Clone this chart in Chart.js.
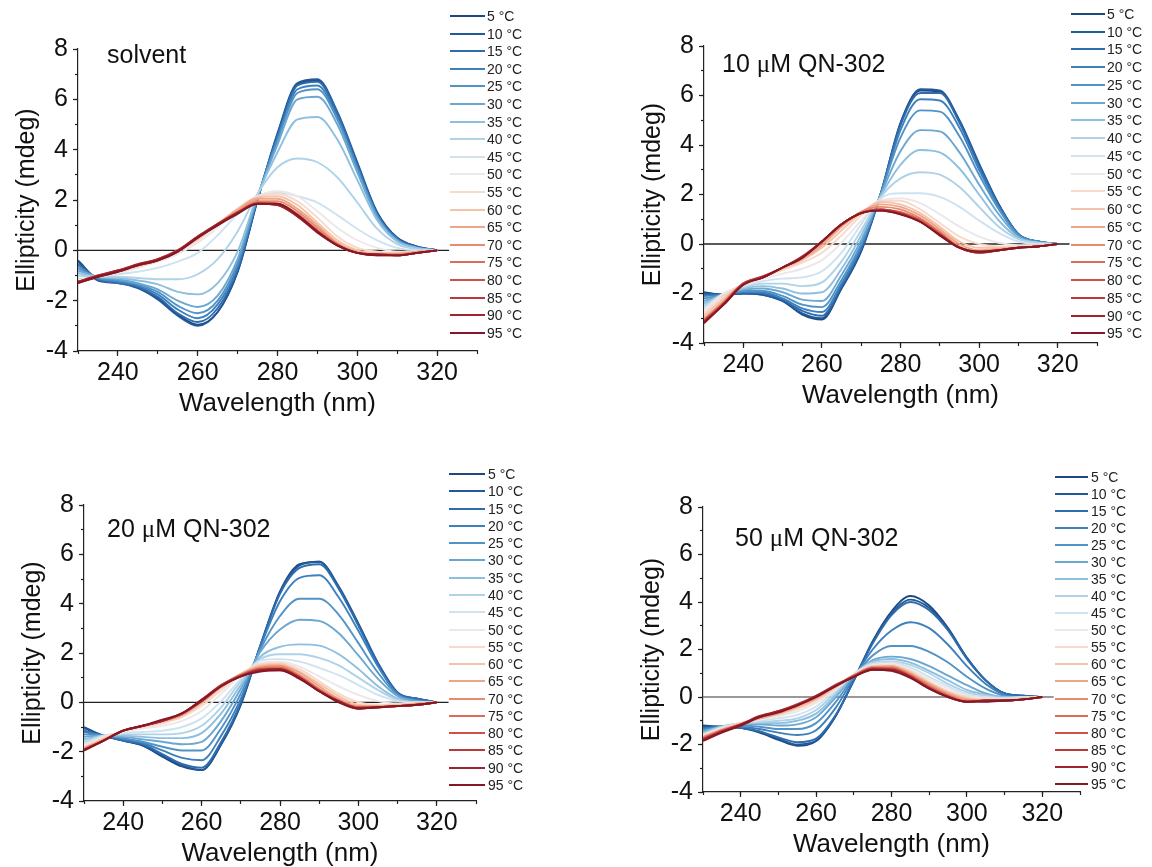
<!DOCTYPE html>
<html>
<head>
<meta charset="utf-8">
<script src="https://cdn.jsdelivr.net/npm/chart.js@4.4.1/dist/chart.umd.min.js"></script>
<style>
  body { margin: 0; background: #fff; width: 1152px; height: 867px; position: relative; overflow: hidden;
         font-family: "Liberation Sans", Arial, sans-serif; color: #111; }
  canvas { position: absolute; }
  .tag { position: absolute; font-size: 25px; line-height: 25px; white-space: nowrap; }
  .tag .mu { font-family: "Liberation Serif", "DejaVu Serif", serif; }
  .lg-line { position: absolute; height: 2px; }
  .lg-text { position: absolute; font-size: 14px; line-height: 14px; white-space: nowrap; color: #222; }
</style>
</head>
<body>
<script>
/* ------------------------------------------------------------
   DATA (mdeg vs nm)
   ------------------------------------------------------------ */
const wavelengths = [230,235,240,245,250,255,260,265,270,275,280,285,290,295,300,305,310,315,320];
const temperatures = [5,10,15,20,25,30,35,40,45,50,55,60,65,70,75,80,85,90,95];
const xTicks = [240,260,280,300,320];
const zeroLineX = [230,323];

// solvent, one row per temperature (5 ... 95 °C)
const solvent = [
  [-0.40,-1.15,-1.25,-1.45,-1.90,-2.55,-2.95,-2.45,-0.85,2.00,4.60,6.60,6.75,5.40,3.40,1.50,0.50,0.15,0.00],
  [-0.45,-1.20,-1.30,-1.50,-1.95,-2.60,-3.00,-2.45,-0.85,2.00,4.65,6.65,6.80,5.50,3.50,1.50,0.50,0.15,0.00],
  [-0.55,-1.15,-1.30,-1.45,-1.85,-2.50,-2.85,-2.30,-0.75,2.05,4.55,6.55,6.70,5.45,3.40,1.45,0.45,0.15,0.00],
  [-0.60,-1.10,-1.25,-1.40,-1.75,-2.35,-2.70,-2.15,-0.65,2.10,4.45,6.40,6.55,5.30,3.30,1.40,0.45,0.10,0.00],
  [-0.70,-1.10,-1.20,-1.35,-1.65,-2.20,-2.50,-2.00,-0.50,2.10,4.35,6.25,6.40,5.20,3.25,1.35,0.40,0.10,0.00],
  [-0.80,-1.05,-1.15,-1.30,-1.55,-2.00,-2.25,-1.80,-0.35,2.15,4.20,6.00,6.10,5.00,3.10,1.30,0.40,0.10,0.00],
  [-0.90,-1.05,-1.10,-1.20,-1.35,-1.65,-1.75,-1.30,-0.05,2.20,3.90,5.20,5.30,4.40,2.80,1.20,0.35,0.10,0.00],
  [-1.00,-1.05,-1.05,-1.10,-1.15,-1.15,-0.95,-0.35,0.75,2.25,3.30,3.65,3.50,2.90,1.90,0.85,0.25,0.05,0.00],
  [-1.15,-1.05,-0.95,-0.85,-0.70,-0.45,-0.10,0.60,1.45,2.15,2.30,2.15,1.90,1.40,0.85,0.40,0.10,0.00,0.00],
  [-1.20,-1.05,-0.90,-0.70,-0.45,-0.15,0.30,0.90,1.60,2.15,2.35,2.15,1.55,0.90,0.40,0.10,-0.05,-0.05,0.00],
  [-1.25,-1.00,-0.85,-0.65,-0.40,-0.05,0.40,1.00,1.65,2.15,2.25,1.95,1.30,0.55,0.10,-0.05,-0.10,-0.05,0.00],
  [-1.25,-1.00,-0.85,-0.60,-0.35,0.00,0.45,1.05,1.65,2.10,2.15,1.80,1.10,0.40,0.00,-0.10,-0.10,-0.05,0.00],
  [-1.25,-1.00,-0.80,-0.60,-0.35,0.00,0.50,1.05,1.60,2.05,2.05,1.65,1.00,0.30,-0.05,-0.15,-0.15,-0.05,0.00],
  [-1.25,-1.00,-0.80,-0.55,-0.35,0.00,0.50,1.05,1.55,1.95,1.95,1.55,0.90,0.25,-0.10,-0.15,-0.15,-0.10,0.00],
  [-1.25,-1.05,-0.80,-0.60,-0.40,0.00,0.55,1.00,1.50,1.90,1.85,1.45,0.80,0.25,-0.10,-0.15,-0.20,-0.10,0.00],
  [-1.30,-1.05,-0.80,-0.60,-0.40,-0.05,0.55,1.00,1.50,1.85,1.85,1.40,0.75,0.20,-0.10,-0.15,-0.20,-0.10,0.00],
  [-1.25,-1.05,-0.85,-0.60,-0.40,-0.05,0.50,1.00,1.50,1.85,1.80,1.35,0.75,0.20,-0.10,-0.20,-0.20,-0.10,0.00],
  [-1.25,-1.00,-0.80,-0.55,-0.35,0.00,0.55,1.05,1.50,1.85,1.80,1.35,0.70,0.20,-0.10,-0.15,-0.20,-0.10,0.00],
  [-1.30,-1.05,-0.85,-0.60,-0.40,-0.05,0.50,1.00,1.45,1.85,1.85,1.40,0.75,0.20,-0.10,-0.20,-0.20,-0.10,0.00]
];

// 10 µM QN-302
const qn10 = [
  [-1.95,-2.05,-2.00,-2.05,-2.30,-2.85,-3.05,-1.80,-0.30,2.05,4.90,6.20,6.15,4.95,3.20,1.60,0.40,0.10,0.00],
  [-2.00,-2.05,-2.00,-2.05,-2.30,-2.80,-3.00,-1.75,-0.25,2.05,4.85,6.25,6.20,5.00,3.25,1.60,0.40,0.10,0.00],
  [-2.05,-2.05,-1.95,-2.00,-2.25,-2.70,-2.90,-1.70,-0.20,2.05,4.80,6.10,6.10,4.90,3.15,1.55,0.40,0.10,0.00],
  [-2.10,-2.05,-1.95,-1.95,-2.20,-2.60,-2.75,-1.60,-0.10,2.05,4.60,5.85,5.80,4.70,3.00,1.50,0.40,0.10,0.00],
  [-2.20,-2.05,-1.90,-1.90,-2.10,-2.45,-2.55,-1.45,0.00,2.05,4.30,5.40,5.35,4.35,2.80,1.40,0.35,0.10,0.00],
  [-2.30,-2.05,-1.85,-1.80,-1.95,-2.25,-2.30,-1.25,0.15,2.00,3.75,4.60,4.55,3.70,2.40,1.20,0.30,0.05,0.00],
  [-2.40,-2.05,-1.80,-1.70,-1.80,-2.00,-1.95,-1.00,0.35,1.95,3.20,3.80,3.70,3.05,2.00,0.95,0.25,0.05,0.00],
  [-2.50,-2.00,-1.75,-1.60,-1.60,-1.70,-1.55,-0.70,0.55,1.90,2.65,2.90,2.80,2.30,1.50,0.70,0.20,0.05,0.00],
  [-2.60,-2.00,-1.70,-1.50,-1.40,-1.35,-1.10,-0.35,0.80,1.85,2.05,2.05,1.90,1.50,0.95,0.45,0.10,0.00,0.00],
  [-2.70,-2.00,-1.65,-1.40,-1.20,-1.00,-0.65,0.05,0.95,1.75,1.85,1.65,1.20,0.70,0.30,0.05,-0.05,-0.05,0.00],
  [-2.80,-2.10,-1.65,-1.35,-1.05,-0.75,-0.35,0.35,1.15,1.75,1.75,1.40,0.85,0.30,0.00,-0.10,-0.10,-0.05,0.00],
  [-2.90,-2.20,-1.60,-1.35,-1.00,-0.65,-0.15,0.55,1.25,1.70,1.60,1.25,0.70,0.10,-0.15,-0.15,-0.15,-0.05,0.00],
  [-3.00,-2.30,-1.60,-1.35,-0.95,-0.60,-0.05,0.70,1.30,1.60,1.50,1.15,0.60,0.00,-0.25,-0.20,-0.15,-0.10,0.00],
  [-3.05,-2.35,-1.60,-1.35,-0.95,-0.55,0.05,0.75,1.30,1.50,1.40,1.05,0.50,-0.10,-0.30,-0.25,-0.15,-0.10,0.00],
  [-3.10,-2.40,-1.60,-1.35,-0.95,-0.55,0.10,0.80,1.25,1.40,1.30,1.00,0.45,-0.15,-0.30,-0.25,-0.15,-0.10,0.00],
  [-3.10,-2.40,-1.60,-1.35,-0.95,-0.55,0.10,0.80,1.25,1.40,1.25,0.95,0.40,-0.15,-0.35,-0.25,-0.15,-0.10,0.00],
  [-3.15,-2.40,-1.60,-1.30,-0.95,-0.50,0.10,0.80,1.25,1.40,1.25,0.90,0.40,-0.15,-0.35,-0.25,-0.15,-0.10,0.00],
  [-3.15,-2.45,-1.65,-1.35,-0.95,-0.55,0.10,0.80,1.25,1.35,1.20,0.90,0.35,-0.15,-0.35,-0.25,-0.15,-0.10,0.00],
  [-3.20,-2.45,-1.65,-1.35,-0.95,-0.55,0.10,0.80,1.25,1.35,1.20,0.90,0.35,-0.15,-0.30,-0.25,-0.15,-0.10,0.00]
];

// 20 µM QN-302
const qn20 = [
  [-1.00,-1.35,-1.55,-1.75,-2.20,-2.60,-2.75,-1.70,-0.10,2.30,4.50,5.60,5.70,4.65,3.15,1.55,0.35,0.15,0.00],
  [-1.05,-1.35,-1.55,-1.75,-2.15,-2.55,-2.75,-1.70,-0.05,2.30,4.45,5.55,5.70,4.70,3.20,1.60,0.40,0.15,0.00],
  [-1.15,-1.35,-1.55,-1.70,-2.10,-2.50,-2.65,-1.60,0.00,2.30,4.40,5.45,5.60,4.60,3.10,1.55,0.35,0.15,0.00],
  [-1.20,-1.35,-1.50,-1.65,-1.95,-2.25,-2.35,-1.35,0.15,2.25,4.10,5.05,5.15,4.25,2.90,1.45,0.35,0.10,0.00],
  [-1.30,-1.35,-1.45,-1.60,-1.80,-1.95,-1.95,-1.05,0.35,2.15,3.50,4.20,4.20,3.55,2.40,1.20,0.30,0.05,0.00],
  [-1.40,-1.35,-1.40,-1.50,-1.60,-1.70,-1.60,-0.75,0.55,2.05,2.95,3.35,3.30,2.80,1.90,0.95,0.25,0.05,0.00],
  [-1.50,-1.35,-1.35,-1.40,-1.45,-1.45,-1.25,-0.45,0.70,1.85,2.25,2.35,2.30,1.95,1.35,0.65,0.15,0.00,0.00],
  [-1.60,-1.35,-1.30,-1.30,-1.30,-1.25,-0.95,-0.20,0.85,1.75,1.95,1.95,1.80,1.50,1.00,0.50,0.10,0.00,0.00],
  [-1.70,-1.35,-1.25,-1.20,-1.15,-1.00,-0.65,0.05,0.95,1.70,1.75,1.65,1.40,1.10,0.70,0.30,0.05,0.00,0.00],
  [-1.75,-1.40,-1.20,-1.05,-0.95,-0.75,-0.35,0.35,1.10,1.60,1.65,1.45,1.05,0.65,0.30,0.05,-0.05,0.00,0.00],
  [-1.80,-1.45,-1.15,-1.00,-0.85,-0.60,-0.15,0.50,1.15,1.55,1.60,1.35,0.85,0.35,0.00,-0.10,-0.10,-0.05,0.00],
  [-1.85,-1.50,-1.15,-0.95,-0.80,-0.55,-0.05,0.60,1.15,1.50,1.55,1.25,0.75,0.25,-0.10,-0.15,-0.10,-0.05,0.00],
  [-1.85,-1.50,-1.15,-0.95,-0.75,-0.50,0.00,0.65,1.15,1.45,1.50,1.20,0.65,0.15,-0.15,-0.15,-0.15,-0.05,0.00],
  [-1.90,-1.55,-1.15,-0.95,-0.75,-0.50,0.05,0.65,1.10,1.40,1.45,1.10,0.55,0.10,-0.20,-0.20,-0.15,-0.10,0.00],
  [-1.90,-1.55,-1.15,-0.95,-0.75,-0.45,0.05,0.65,1.10,1.35,1.40,1.05,0.50,0.05,-0.20,-0.20,-0.15,-0.10,0.00],
  [-1.90,-1.55,-1.15,-0.95,-0.75,-0.45,0.10,0.70,1.10,1.35,1.35,1.00,0.50,0.05,-0.20,-0.20,-0.15,-0.10,0.00],
  [-1.95,-1.55,-1.15,-0.95,-0.75,-0.45,0.10,0.70,1.05,1.30,1.30,1.00,0.45,0.05,-0.25,-0.20,-0.15,-0.10,0.00],
  [-1.95,-1.55,-1.15,-0.95,-0.75,-0.45,0.05,0.65,1.05,1.30,1.35,1.00,0.45,0.05,-0.25,-0.20,-0.15,-0.10,0.00],
  [-1.95,-1.55,-1.15,-0.95,-0.70,-0.45,0.10,0.65,1.05,1.25,1.30,0.95,0.45,0.00,-0.25,-0.20,-0.15,-0.10,0.00]
];

// 50 µM QN-302
const qn50 = [
  [-1.20,-1.25,-1.30,-1.50,-1.80,-2.05,-1.85,-0.85,0.70,2.35,3.60,4.25,3.85,2.90,1.65,0.70,0.15,0.05,0.00],
  [-1.25,-1.25,-1.30,-1.45,-1.75,-2.00,-1.85,-0.85,0.70,2.30,3.50,4.10,3.75,2.85,1.65,0.70,0.15,0.05,0.00],
  [-1.30,-1.25,-1.30,-1.45,-1.70,-1.90,-1.75,-0.80,0.70,2.25,3.45,4.00,3.65,2.80,1.60,0.70,0.15,0.05,0.00],
  [-1.35,-1.25,-1.25,-1.35,-1.50,-1.60,-1.40,-0.50,0.80,2.00,2.80,3.15,2.90,2.20,1.30,0.55,0.10,0.00,0.00],
  [-1.40,-1.25,-1.20,-1.25,-1.35,-1.35,-1.10,-0.25,0.85,1.75,2.15,2.15,1.90,1.45,0.85,0.35,0.05,0.00,0.00],
  [-1.45,-1.25,-1.15,-1.15,-1.20,-1.15,-0.85,-0.05,0.90,1.55,1.70,1.60,1.30,0.90,0.50,0.15,0.00,0.00,0.00],
  [-1.50,-1.25,-1.15,-1.10,-1.10,-1.00,-0.70,0.05,0.95,1.50,1.60,1.45,1.10,0.70,0.30,0.10,0.00,0.00,0.00],
  [-1.55,-1.25,-1.10,-1.05,-1.00,-0.90,-0.55,0.15,0.95,1.45,1.50,1.35,1.00,0.55,0.20,0.05,-0.05,0.00,0.00],
  [-1.60,-1.30,-1.10,-1.00,-0.90,-0.75,-0.40,0.25,0.95,1.40,1.45,1.25,0.85,0.45,0.10,0.00,-0.05,0.00,0.00],
  [-1.60,-1.30,-1.10,-0.95,-0.80,-0.60,-0.25,0.30,0.95,1.35,1.40,1.15,0.75,0.35,0.05,-0.05,-0.10,-0.05,0.00],
  [-1.65,-1.35,-1.10,-0.90,-0.75,-0.50,-0.15,0.35,0.95,1.30,1.35,1.10,0.65,0.25,0.00,-0.10,-0.10,-0.05,0.00],
  [-1.65,-1.35,-1.10,-0.90,-0.70,-0.45,-0.10,0.40,0.90,1.30,1.30,1.05,0.60,0.20,-0.05,-0.15,-0.15,-0.05,0.00],
  [-1.70,-1.40,-1.15,-0.90,-0.70,-0.40,-0.05,0.45,0.90,1.25,1.30,1.00,0.55,0.15,-0.10,-0.15,-0.15,-0.10,0.00],
  [-1.70,-1.40,-1.15,-0.85,-0.65,-0.35,0.00,0.45,0.90,1.25,1.25,0.95,0.50,0.10,-0.15,-0.15,-0.15,-0.10,0.00],
  [-1.75,-1.40,-1.15,-0.85,-0.65,-0.35,0.00,0.45,0.90,1.20,1.20,0.90,0.45,0.05,-0.20,-0.15,-0.15,-0.10,0.00],
  [-1.75,-1.45,-1.20,-0.85,-0.60,-0.35,0.00,0.45,0.90,1.20,1.20,0.90,0.40,0.05,-0.20,-0.15,-0.15,-0.10,0.00],
  [-1.80,-1.45,-1.20,-0.85,-0.60,-0.30,0.05,0.50,0.85,1.20,1.15,0.85,0.40,0.00,-0.20,-0.15,-0.15,-0.10,0.00],
  [-1.80,-1.45,-1.15,-0.80,-0.60,-0.35,0.05,0.45,0.85,1.15,1.15,0.85,0.35,0.00,-0.20,-0.15,-0.15,-0.10,0.00],
  [-1.85,-1.50,-1.20,-0.85,-0.65,-0.35,0.00,0.45,0.85,1.15,1.10,0.80,0.35,0.00,-0.20,-0.20,-0.15,-0.10,0.00]
];

/* ------------------------------------------------------------
   STYLE / LAYOUT
   ------------------------------------------------------------ */
const tempColors = ["#1c4a80","#21599b","#2f6cad","#3d80bb","#5293c6","#6ba7d1","#8dbfdf","#afd2e8","#cfe2ef",
                    "#ebe7ea","#f8d9ca","#f5c2aa","#efa688","#e78a6d","#dc6e59","#cc5248","#b83a3c","#a0232f","#841826"];
const FONT = "'Liberation Sans', Arial, sans-serif";
const AXIS = "#222";

const panels = [
  { series: solvent, tag: ["solvent"],           area: { l: 78,  r: 477,  t: 47,  b: 351 }, tagPos: [107, 63],
    legend: { x: 450,  w: 35, tx: 487,  y0: 16,  dy: 17.6 },  zero: "#222" },
  { series: qn10,    tag: ["10 ", "μ", "M QN-302"], area: { l: 704, r: 1097, t: 44,  b: 343 }, tagPos: [722, 72],
    legend: { x: 1071, w: 34, tx: 1107, y0: 14,  dy: 17.74 }, zero: "#222" },
  { series: qn20,    tag: ["20 ", "μ", "M QN-302"], area: { l: 84,  r: 476,  t: 503, b: 801 }, tagPos: [107, 537],
    legend: { x: 449,  w: 36, tx: 488,  y0: 474, dy: 17.28 }, zero: "#222" },
  { series: qn50,    tag: ["50 ", "μ", "M QN-302"], area: { l: 703, r: 1080, t: 505, b: 792 }, tagPos: [735, 546],
    legend: { x: 1055, w: 33, tx: 1091, y0: 477, dy: 17.04 }, zero: "#777" }
];

/* ------------------------------------------------------------
   BUILD PANELS
   ------------------------------------------------------------ */
function makePanel(p) {
    const a = p.area;
    const cl = a.l - 78, ct = a.t - 18;
    const cw = a.r - cl + 6, ch = a.b - ct + 70;

    const cv = document.createElement("canvas");
    cv.width = cw; cv.height = ch;
    cv.style.left = cl + "px"; cv.style.top = ct + "px";
    document.body.appendChild(cv);

    const datasets = p.series.map((row, i) => ({
        label: temperatures[i] + " °C",
        data: wavelengths.map((w, k) => ({ x: w, y: row[k] })),
        borderColor: tempColors[i],
        borderWidth: 1.9,
        order: temperatures.length - i
    }));
    datasets.push({
        label: "zero",
        data: zeroLineX.map(x => ({ x: x, y: 0 })),
        borderColor: p.zero,
        borderWidth: 1.4,
        order: 100
    });

    const tickGrid = len => ({ drawOnChartArea: false, tickLength: len, tickColor: AXIS, tickWidth: 1.2 });

    new Chart(cv, {
        type: "line",
        data: { datasets },
        options: {
            responsive: false,
            animation: false,
            layout: { padding: { top: 18, right: 6, left: 0, bottom: 0 } },
            plugins: { legend: { display: false }, tooltip: { enabled: false } },
            elements: { point: { radius: 0 }, line: { cubicInterpolationMode: "monotone" } },
            scales: {
                x: {
                    type: "linear", min: 230, max: 330,
                    afterBuildTicks: s => { s.ticks = xTicks.map(v => ({ value: v })); },
                    afterFit: s => { s.height = 70; },
                    grid: tickGrid(5),
                    border: { color: AXIS, width: 1.2 },
                    ticks: { font: { size: 25, family: FONT }, color: "#111", padding: 2, maxRotation: 0, autoSkip: false },
                    title: { display: true, text: "Wavelength (nm)", color: "#111",
                             font: { size: 26, family: FONT }, padding: { top: 0, bottom: 2 } }
                },
                x2: {
                    type: "linear", position: "bottom", weight: -1, min: 230, max: 330,
                    ticks: { stepSize: 10, display: false },
                    afterFit: s => { s.height = 0; },
                    grid: tickGrid(3),
                    border: { display: false }
                },
                y: {
                    min: -4, max: 8,
                    afterFit: s => { s.width = 78; },
                    grid: tickGrid(5),
                    border: { color: AXIS, width: 1.2 },
                    ticks: { stepSize: 2, font: { size: 25, family: FONT }, color: "#111", padding: 5 },
                    title: { display: true, text: "Ellipticity (mdeg)", color: "#111",
                             font: { size: 25, family: FONT }, padding: { top: 12, bottom: 0 } }
                },
                y2: {
                    position: "left", weight: -1, min: -4, max: 8,
                    ticks: { stepSize: 1, display: false },
                    afterFit: s => { s.width = 0; },
                    grid: tickGrid(3),
                    border: { display: false }
                }
            }
        }
    });

    // panel label
    const tag = document.createElement("div");
    tag.className = "tag";
    tag.style.left = p.tagPos[0] + "px";
    tag.style.top = (p.tagPos[1] - 21) + "px";
    p.tag.forEach(t => {
        const s = document.createElement("span");
        if (t === "μ") s.className = "mu";
        s.textContent = t;
        tag.appendChild(s);
    });
    document.body.appendChild(tag);

    // legend
    const L = p.legend;
    temperatures.forEach((t, i) => {
        const y = L.y0 + i * L.dy;
        const ln = document.createElement("div");
        ln.className = "lg-line";
        ln.style.left = L.x + "px";
        ln.style.top = (y - 1) + "px";
        ln.style.width = L.w + "px";
        ln.style.background = tempColors[i];
        document.body.appendChild(ln);

        const tx = document.createElement("div");
        tx.className = "lg-text";
        tx.style.left = L.tx + "px";
        tx.style.top = (y - 7) + "px";
        tx.textContent = t + " °C";
        document.body.appendChild(tx);
    });
}

panels.forEach(makePanel);
</script>
</body>
</html>
